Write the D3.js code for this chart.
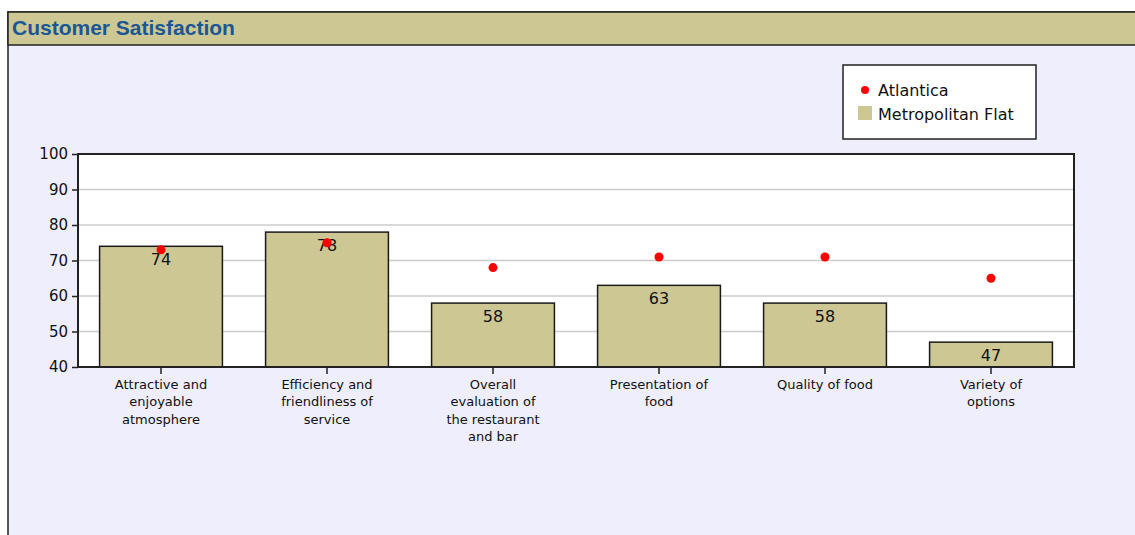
<!DOCTYPE html>
<html>
<head>
<meta charset="utf-8">
<script src="https://cdn.jsdelivr.net/npm/d3@7"></script>
<style>
  body { margin: 0; background: #ffffff; }
  text { font-family: "DejaVu Sans", Verdana, sans-serif; }
</style>
</head>
<body>
<div id="chart"></div>
<script>
// chart data
const categories = [
    ["Attractive and", "enjoyable", "atmosphere"],
    ["Efficiency and", "friendliness of", "service"],
    ["Overall", "evaluation of", "the restaurant", "and bar"],
    ["Presentation of", "food"],
    ["Quality of food"],
    ["Variety of", "options"]
];
const metropolitan = [74, 78, 58, 63, 58, 47];
const atlantica = [73, 75, 68, 71, 71, 65];
const yTicks = [40, 50, 60, 70, 80, 90, 100];

const W = 1135, H = 535;
const plot = { left: 78, right: 1074, top: 154, bottom: 367 };

let svg = d3.select("#chart")
    .append("svg")
    .attr("width", W)
    .attr("height", H);

// panel background + title bar
svg.append("rect")
    .attr("x", 8).attr("y", 12)
    .attr("width", W).attr("height", H)
    .style("fill", "#eeeefc")
    .style("stroke", "#222")
    .style("stroke-width", 1.5);

svg.append("rect")
    .attr("x", 8).attr("y", 12)
    .attr("width", W).attr("height", 33)
    .style("fill", "#cdc794")
    .style("stroke", "#222")
    .style("stroke-width", 1.5);

svg.append("text")
    .attr("x", 12).attr("y", 35)
    .text("Customer Satisfaction")
    .style("font-family", "'Liberation Sans', Arial, sans-serif")
    .style("font-weight", "bold")
    .style("font-size", "21px")
    .style("fill", "#1b5795");

// scales
let x = d3.scaleBand()
    .domain(d3.range(categories.length))
    .range([plot.left, plot.right])
    .paddingInner(0.26)
    .paddingOuter(0.13);

let y = d3.scaleLinear()
    .domain([40, 100])
    .range([plot.bottom, plot.top]);

// plot background
svg.append("rect")
    .attr("x", plot.left).attr("y", plot.top)
    .attr("width", plot.right - plot.left)
    .attr("height", plot.bottom - plot.top)
    .style("fill", "#ffffff");

// gridlines
svg.selectAll(".grid")
    .data(yTicks.slice(1, -1))
    .enter()
    .append("line")
    .attr("x1", plot.left).attr("x2", plot.right)
    .attr("y1", d => y(d)).attr("y2", d => y(d))
    .style("stroke", "#cccccc")
    .style("stroke-width", 1.5);

// bars
svg.selectAll(".bar")
    .data(metropolitan)
    .enter()
    .append("rect")
    .attr("x", (d, i) => x(i))
    .attr("y", d => y(d))
    .attr("width", x.bandwidth())
    .attr("height", d => y(40) - y(d))
    .style("fill", "#cdc794")
    .style("stroke", "#1a1a1a")
    .style("stroke-width", 1.5);

// bar value labels
svg.selectAll(".val")
    .data(metropolitan)
    .enter()
    .append("text")
    .attr("x", (d, i) => x(i) + x.bandwidth() / 2)
    .attr("y", d => y(d) + 19)
    .attr("text-anchor", "middle")
    .text(d => d)
    .style("font-size", "16px")
    .style("fill", "#111");

// atlantica points
svg.selectAll(".dot")
    .data(atlantica)
    .enter()
    .append("circle")
    .attr("cx", (d, i) => x(i) + x.bandwidth() / 2)
    .attr("cy", d => y(d))
    .attr("r", 4.5)
    .style("fill", "#ff0000");

// plot frame
svg.append("rect")
    .attr("x", plot.left).attr("y", plot.top)
    .attr("width", plot.right - plot.left)
    .attr("height", plot.bottom - plot.top)
    .style("fill", "none")
    .style("stroke", "#222")
    .style("stroke-width", 2);

// y axis
let yAxis = svg.append("g")
    .attr("transform", "translate(" + plot.left + ",0)")
    .call(d3.axisLeft(y).tickValues(yTicks).tickSize(6).tickPadding(4));
yAxis.select(".domain").remove();
yAxis.selectAll("line").style("stroke", "#222").style("stroke-width", 1.5);
yAxis.selectAll("text")
    .style("font-size", "15px")
    .style("font-family", "'DejaVu Sans', Verdana, sans-serif")
    .style("fill", "#111");

// x ticks + wrapped labels
let xg = svg.selectAll(".xcat")
    .data(categories)
    .enter()
    .append("g")
    .attr("transform", (d, i) => "translate(" + (x(i) + x.bandwidth() / 2) + "," + plot.bottom + ")");

xg.append("line")
    .attr("y1", 0).attr("y2", 7)
    .style("stroke", "#222")
    .style("stroke-width", 1.5);

xg.each(function (lines) {
    let t = d3.select(this).append("text")
        .attr("text-anchor", "middle")
        .style("font-size", "13px")
        .style("fill", "#111");
    lines.forEach((l, j) => {
        t.append("tspan").attr("x", 0).attr("y", 22 + j * 17.3).text(l);
    });
});

// legend
let legend = svg.append("g").attr("transform", "translate(843,65)");
legend.append("rect")
    .attr("width", 193).attr("height", 74)
    .style("fill", "#ffffff")
    .style("stroke", "#222")
    .style("stroke-width", 1.5);
legend.append("circle")
    .attr("cx", 22).attr("cy", 25).attr("r", 4)
    .style("fill", "#ff0000");
legend.append("text")
    .attr("x", 35).attr("y", 31)
    .text("Atlantica")
    .style("font-size", "16px").style("fill", "#111");
legend.append("rect")
    .attr("x", 15).attr("y", 41).attr("width", 14).attr("height", 14)
    .style("fill", "#cdc794");
legend.append("text")
    .attr("x", 35).attr("y", 55)
    .text("Metropolitan Flat")
    .style("font-size", "16px").style("fill", "#111");
</script>
</body>
</html>
